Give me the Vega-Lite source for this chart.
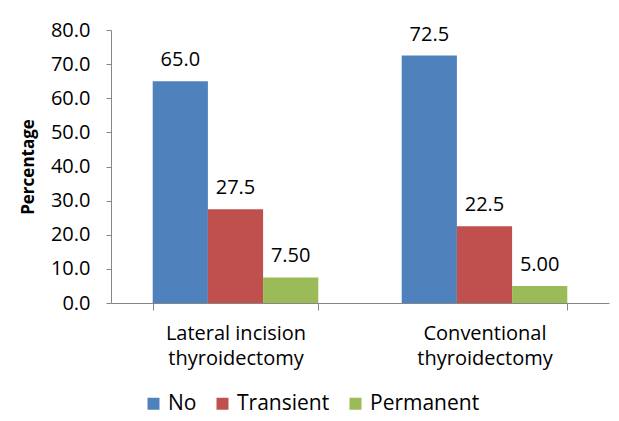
{
  "$schema": "https://vega.github.io/schema/vega-lite/v6.json",
  "width": 498,
  "height": 273,
  "autosize": {"type": "none"},
  "padding": {"left": 111, "top": 30, "right": 10, "bottom": 118},
  "background": "white",
  "config": {
    "font": "Open Sans",
    "view": {"stroke": null},
    "axis": {"labelColor": "#000000", "titleColor": "#000000"}
  },
  "data": {
    "values": [
      {"group": "Lateral incision thyroidectomy", "outcome": "No", "pct": 65.0},
      {"group": "Lateral incision thyroidectomy", "outcome": "Transient", "pct": 27.5},
      {"group": "Lateral incision thyroidectomy", "outcome": "Permanent", "pct": 7.5},
      {"group": "Conventional thyroidectomy", "outcome": "No", "pct": 72.5},
      {"group": "Conventional thyroidectomy", "outcome": "Transient", "pct": 22.5},
      {"group": "Conventional thyroidectomy", "outcome": "Permanent", "pct": 5.0}
    ]
  },
  "encoding": {
    "x": {
      "field": "group",
      "type": "nominal",
      "sort": null,
      "scale": {"paddingInner": 0.335, "paddingOuter": 0.1675},
      "axis": {
        "title": null,
        "labelAngle": 0,
        "labelFontSize": 20,
        "labelLineHeight": 25,
        "labelPadding": 13,
        "labelExpr": "split(replace(datum.label, ' thyroidectomy', '|thyroidectomy'), '|')",
        "domainColor": "#868686",
        "tickColor": "#868686",
        "tickSize": 7,
        "tickBand": "extent"
      }
    },
    "xOffset": {
      "field": "outcome",
      "sort": ["No", "Transient", "Permanent"],
      "scale": {"paddingInner": 0, "paddingOuter": 0}
    },
    "y": {
      "field": "pct",
      "type": "quantitative",
      "scale": {"domain": [0, 80]},
      "axis": {
        "title": "Percentage",
        "titleFontSize": 17,
        "titleFontWeight": "bold",
        "titlePadding": 13,
        "values": [0, 10, 20, 30, 40, 50, 60, 70, 80],
        "format": ".1f",
        "grid": false,
        "labelFontSize": 20,
        "labelPadding": 16,
        "domainColor": "#868686",
        "tickColor": "#868686",
        "tickSize": 5
      }
    }
  },
  "layer": [
    {
      "mark": {"type": "bar"},
      "encoding": {
        "color": {
          "field": "outcome",
          "type": "nominal",
          "sort": ["No", "Transient", "Permanent"],
          "scale": {
            "domain": ["No", "Transient", "Permanent"],
            "range": ["#4F81BD", "#C0504D", "#9BBB59"]
          },
          "legend": {
            "orient": "none",
            "legendX": 32,
            "legendY": 363,
            "direction": "horizontal",
            "title": null,
            "symbolType": "square",
            "symbolSize": 144,
            "symbolStrokeWidth": 0,
            "labelFontSize": 21,
            "labelColor": "#000000",
            "labelOffset": 4,
            "columnPadding": 15,
            "padding": 0
          }
        }
      }
    },
    {
      "mark": {"type": "text", "baseline": "alphabetic", "dy": -15, "fontSize": 20, "color": "#000000"},
      "encoding": {
        "text": {"field": "pct", "type": "quantitative", "format": ".3r"}
      }
    }
  ]
}
